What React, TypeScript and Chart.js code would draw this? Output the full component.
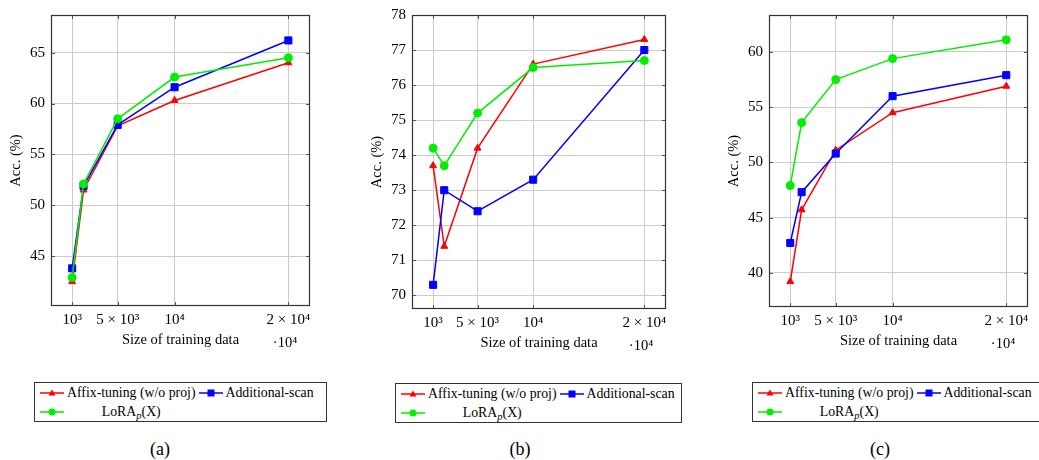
import { useEffect, useRef } from "react";
import { Chart, registerables } from "chart.js";

Chart.register(...registerables);

const trainSizes = [1000, 2000, 5000, 10000, 20000];
const xTickValues = [1000, 5000, 10000, 20000];
const xTickLabels = ["10³", "5 × 10³", "10⁴", "2 × 10⁴"];

// (a)
const affixA = [42.5, 51.5, 57.8, 60.3, 64.0];
const scanA = [43.8, 51.9, 57.9, 61.6, 66.2];
const loraA = [42.9, 52.1, 58.5, 62.6, 64.5];
const yTicksA = [45, 50, 55, 60, 65];

// (b)
const affixB = [73.7, 71.4, 74.2, 76.6, 77.3];
const scanB = [70.3, 73.0, 72.4, 73.3, 77.0];
const loraB = [74.2, 73.7, 75.2, 76.5, 76.7];
const yTicksB = [70, 71, 72, 73, 74, 75, 76, 77, 78];

// (c)
const affixC = [39.2, 45.7, 51.1, 54.5, 56.9];
const scanC = [42.7, 47.3, 50.8, 56.0, 57.9];
const loraC = [47.9, 53.6, 57.5, 59.4, 61.1];
const yTicksC = [40, 45, 50, 55, 60];

const RED = "#ff0000";
const BLUE = "#0000ff";
const GREEN = "#00ee00";
const FONT = '"Liberation Serif", "DejaVu Serif", serif';

const CANVAS_H = 360;
const Y_AXIS_W = 40;
const X_AXIS_H = 30;

type Area = { left: number; top: number; right: number; bottom: number };

type PanelProps = {
    left: number;
    width: number;
    area: Area;
    xMin: number;
    xMax: number;
    yMin: number;
    yMax: number;
    yTicks: number[];
    affix: number[];
    scan: number[];
    lora: number[];
};

// frame, inner tick marks and axis titles, pgfplots style
const decorations = {
    id: "decorations",
    afterDraw(chart: any) {
        const { ctx, chartArea: a, scales } = chart;
        ctx.save();
        ctx.strokeStyle = "#555";
        ctx.lineWidth = 1;
        ctx.beginPath();
        scales.x.ticks.forEach((t: any) => {
            const px = Math.round(scales.x.getPixelForValue(t.value)) + 0.5;
            ctx.moveTo(px, a.bottom);
            ctx.lineTo(px, a.bottom - 4);
            ctx.moveTo(px, a.top);
            ctx.lineTo(px, a.top + 4);
        });
        scales.y.ticks.forEach((t: any) => {
            const py = Math.round(scales.y.getPixelForValue(t.value)) + 0.5;
            ctx.moveTo(a.left, py);
            ctx.lineTo(a.left + 4, py);
            ctx.moveTo(a.right, py);
            ctx.lineTo(a.right - 4, py);
        });
        ctx.stroke();

        ctx.strokeStyle = "#333";
        ctx.lineWidth = 1.2;
        ctx.strokeRect(a.left + 0.5, a.top + 0.5, a.right - a.left - 1, a.bottom - a.top - 1);

        ctx.fillStyle = "#000";
        ctx.textAlign = "center";
        ctx.textBaseline = "middle";
        ctx.font = `14.5px ${FONT}`;
        ctx.fillText("Size of training data", (a.left + a.right) / 2, a.bottom + 34);
        ctx.fillText("·10⁴", a.right - 25, a.bottom + 37);

        ctx.translate(a.left - 35, (a.top + a.bottom) / 2);
        ctx.rotate(-Math.PI / 2);
        ctx.fillText("Acc. (%)", 0, 0);
        ctx.restore();
    }
};

const Panel = ({ left, width, area, xMin, xMax, yMin, yMax, yTicks, affix, scan, lora }: PanelProps) => {
    const canvasRef = useRef<HTMLCanvasElement | null>(null);
    const chartRef = useRef<any>(null);

    useEffect(() => {
        if (!canvasRef.current) return;
        if (chartRef.current) chartRef.current.destroy();

        const line = (data: number[], color: string, pointStyle: string, radius: number, order: number) => ({
            data: trainSizes.map((x, i) => ({ x, y: data[i] })),
            borderColor: color,
            backgroundColor: color,
            borderWidth: 1.5,
            pointStyle,
            pointRadius: radius,
            pointBorderWidth: 1,
            order
        });

        chartRef.current = new Chart(canvasRef.current, {
            type: "line",
            data: {
                datasets: [
                    line(affix, RED, "triangle", 4, 2),
                    line(scan, BLUE, "rect", 5, 1),
                    line(lora, GREEN, "circle", 4, 0)
                ] as any
            },
            plugins: [decorations],
            options: {
                responsive: false,
                animation: false,
                layout: {
                    padding: {
                        left: area.left - left - Y_AXIS_W,
                        right: left + width - area.right,
                        top: area.top,
                        bottom: CANVAS_H - area.bottom - X_AXIS_H
                    }
                },
                scales: {
                    x: {
                        type: "linear",
                        min: xMin,
                        max: xMax,
                        afterBuildTicks: (s: any) => {
                            s.ticks = xTickValues.map((value) => ({ value }));
                        },
                        afterFit: (s: any) => {
                            s.height = X_AXIS_H;
                        },
                        ticks: {
                            autoSkip: false,
                            maxRotation: 0,
                            padding: 5,
                            color: "#000",
                            font: { family: FONT, size: 15 },
                            callback: (v: any) => xTickLabels[xTickValues.indexOf(v)] ?? ""
                        },
                        grid: { color: "#cccccc", drawTicks: false },
                        border: { display: false }
                    },
                    y: {
                        type: "linear",
                        min: yMin,
                        max: yMax,
                        afterBuildTicks: (s: any) => {
                            s.ticks = yTicks.map((value) => ({ value }));
                        },
                        afterFit: (s: any) => {
                            s.width = Y_AXIS_W;
                        },
                        ticks: {
                            autoSkip: false,
                            padding: 6,
                            color: "#000",
                            font: { family: FONT, size: 15 },
                            callback: (v: any) => String(v)
                        },
                        grid: { color: "#cccccc", drawTicks: false },
                        border: { display: false }
                    }
                },
                plugins: {
                    legend: { display: false },
                    tooltip: { enabled: false }
                }
            }
        });

        return () => chartRef.current?.destroy();
    }, [left, width, area, xMin, xMax, yMin, yMax, yTicks, affix, scan, lora]);

    return (
        <canvas
            ref={canvasRef}
            width={width}
            height={CANVAS_H}
            style={{ position: "absolute", left, top: 0, width, height: CANVAS_H }}
        />
    );
};

const Swatch = ({ color, marker }: { color: string; marker: string }) => (
    <svg width="24" height="10" style={{ display: "block" }}>
        <line x1="0" y1="5" x2="24" y2="5" stroke={color} strokeWidth="1.5" />
        {marker === "triangle" && <polygon points="12,1.5 15.5,7.5 8.5,7.5" fill={color} />}
        {marker === "rect" && <rect x="8.5" y="1.5" width="7" height="7" fill={color} />}
        {marker === "circle" && <circle cx="12" cy="5" r="3.5" fill={color} />}
    </svg>
);

const Legend = ({ left, top, width }: { left: number; top: number; width: number }) => (
    <div
        style={{
            position: "absolute",
            left,
            top,
            width,
            height: 40,
            boxSizing: "border-box",
            border: "1px solid #333",
            background: "#fff",
            fontFamily: FONT,
            fontSize: 13.8,
            color: "#000",
            display: "grid",
            gridTemplateColumns: "24px auto 24px auto",
            gridTemplateRows: "19px 19px",
            columnGap: 3,
            alignItems: "center",
            justifyContent: "start",
            padding: "0 0 0 5px",
            whiteSpace: "nowrap",
            lineHeight: "19px"
        }}
    >
        <Swatch color={RED} marker="triangle" />
        <span>Affix-tuning (w/o proj)</span>
        <Swatch color={BLUE} marker="rect" />
        <span>Additional-scan</span>
        <Swatch color={GREEN} marker="circle" />
        <span style={{ justifySelf: "center" }}>
            LoRA<sub style={{ fontStyle: "italic", fontSize: 10.5, verticalAlign: "-3px", lineHeight: 0 }}>p</sub>(X)
        </span>
    </div>
);

const Caption = ({ x, text }: { x: number; text: string }) => (
    <div
        style={{
            position: "absolute",
            left: x,
            top: 439,
            transform: "translateX(-50%)",
            fontFamily: FONT,
            fontSize: 18,
            color: "#000"
        }}
    >
        {text}
    </div>
);

const App = () => {
    return (
        <div
            style={{
                position: "absolute",
                left: 0,
                top: 0,
                width: 1039,
                height: 460,
                overflow: "hidden",
                background: "#fff"
            }}
        >
            <Panel
                left={0}
                width={335}
                area={{ left: 51, top: 6, right: 310, bottom: 306 }}
                xMin={-860}
                xMax={21900}
                yMin={40.1}
                yMax={68.7}
                yTicks={yTicksA}
                affix={affixA}
                scan={scanA}
                lora={loraA}
            />
            <Panel
                left={340}
                width={350}
                area={{ left: 412, top: 15, right: 666, bottom: 309 }}
                xMin={-900}
                xMax={21950}
                yMin={69.61}
                yMax={78}
                yTicks={yTicksB}
                affix={affixB}
                scan={scanB}
                lora={loraB}
            />
            <Panel
                left={690}
                width={349}
                area={{ left: 769, top: 7, right: 1028, bottom: 307 }}
                xMin={-870}
                xMax={21910}
                yMin={36.9}
                yMax={63.35}
                yTicks={yTicksC}
                affix={affixC}
                scan={scanC}
                lora={loraC}
            />

            <Legend left={34} top={382} width={293} />
            <Legend left={395} top={383} width={287} />
            <Legend left={752} top={382} width={293} />

            <Caption x={160} text="(a)" />
            <Caption x={520} text="(b)" />
            <Caption x={880} text="(c)" />
        </div>
    );
};

export default App;
